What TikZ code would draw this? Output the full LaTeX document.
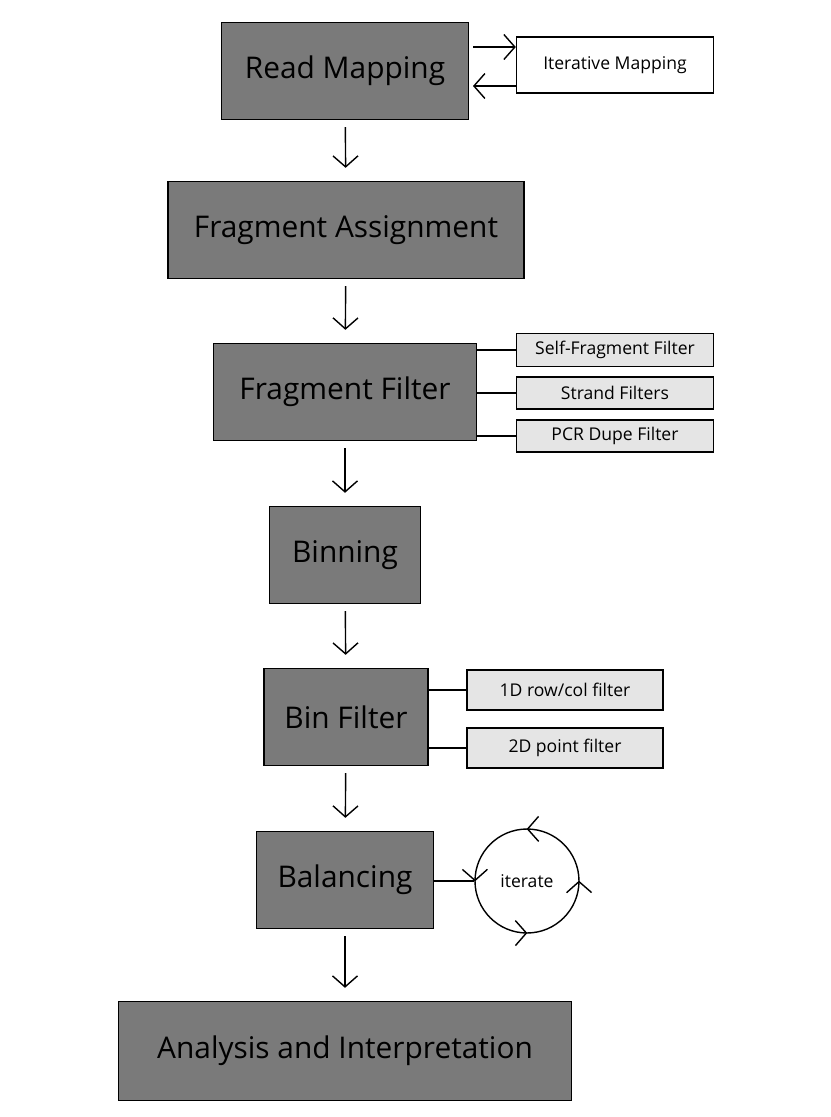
\documentclass[tikz,border=0pt]{standalone}
\usepackage{fontspec}
\setmainfont{Open Sans}
\usetikzlibrary{arrows.meta,decorations.markings,positioning}
\tikzset{>={Straight Barb[length=0.22cm,width=0.5cm]}}
\tikzstyle{stage}=[draw=black,thick,fill=black!52,inner sep=0pt,font=\fontsize{17}{20}\selectfont]
\tikzstyle{side}=[draw=black,thick,fill=black!10,inner sep=0pt,font=\fontsize{10}{12}\selectfont]
\tikzstyle{flow}=[->,thick]
\begin{document}
\begin{tikzpicture}[x=0.02cm,y=-0.02cm]
  \useasboundingbox (0,0) rectangle (831,1117);

  % main steps
  \node[stage,minimum width=4.94cm,minimum height=1.94cm] (read) at (345,71) {Read Mapping};
  \node[stage,minimum width=7.12cm,minimum height=1.94cm] (assign) at (346,230) {Fragment Assignment};
  \node[stage,minimum width=5.26cm,minimum height=1.94cm] (ffilter) at (345,392) {Fragment Filter};
  \node[stage,minimum width=3.02cm,minimum height=1.94cm] (binning) at (345,555) {Binning};
  \node[stage,minimum width=3.28cm,minimum height=1.94cm] (bfilter) at (346,717) {Bin Filter};
  \node[stage,minimum width=3.54cm,minimum height=1.94cm] (balance) at (345,880) {Balancing};
  \node[stage,minimum width=9.06cm,minimum height=1.98cm] (analysis) at (345,1051) {Analysis and Interpretation};

  \foreach \a/\b in {read/assign,assign/ffilter,ffilter/binning,binning/bfilter,bfilter/balance,balance/analysis}{
    \draw[flow,shorten >=0.26cm,shorten <=0.14cm] (\a) -- (\b);
  }

  % iterative mapping
  \node[side,fill=white,minimum width=3.94cm,minimum height=1.12cm] (iter) at (615,65) {Iterative Mapping};
  \coordinate (r1) at (473,47);
  \coordinate (r2) at (473,86);
  \draw[flow] (r1) -- (r1-|iter.west);
  \draw[flow] (r2-|iter.west) -- (r2);

  % fragment filters
  \node[side,minimum width=3.94cm,minimum height=0.66cm] (self) at (615,350) {Self-Fragment Filter};
  \node[side,minimum width=3.94cm,minimum height=0.64cm] (strand) at (615,393) {Strand Filters};
  \node[side,minimum width=3.94cm,minimum height=0.64cm] (pcr) at (615,436) {PCR Dupe Filter};
  \foreach \s in {self,strand,pcr}
    \draw[thick] (\s.west) -- (\s.west-|ffilter.east);

  % bin filters
  \node[side,minimum width=3.92cm,minimum height=0.8cm] (rowcol) at (565,690) {1D row/col filter};
  \node[side,minimum width=3.92cm,minimum height=0.8cm] (point) at (565,748) {2D point filter};
  \foreach \s in {rowcol,point}
    \draw[thick] (\s.west) -- (\s.west-|bfilter.east);

  % iterate loop
  \node[circle,draw,thick,minimum size=2.08cm,inner sep=0pt,font=\fontsize{10}{12}\selectfont,
    postaction=decorate,decoration={markings,mark=between positions 0.001 and 0.99 step 0.25 with {\arrow[thick]{>}}}]
    (loop) at (527,881) {iterate};
  \draw[thick] (balance.east|-loop.west) -- (loop.west);
\end{tikzpicture}
\end{document}
